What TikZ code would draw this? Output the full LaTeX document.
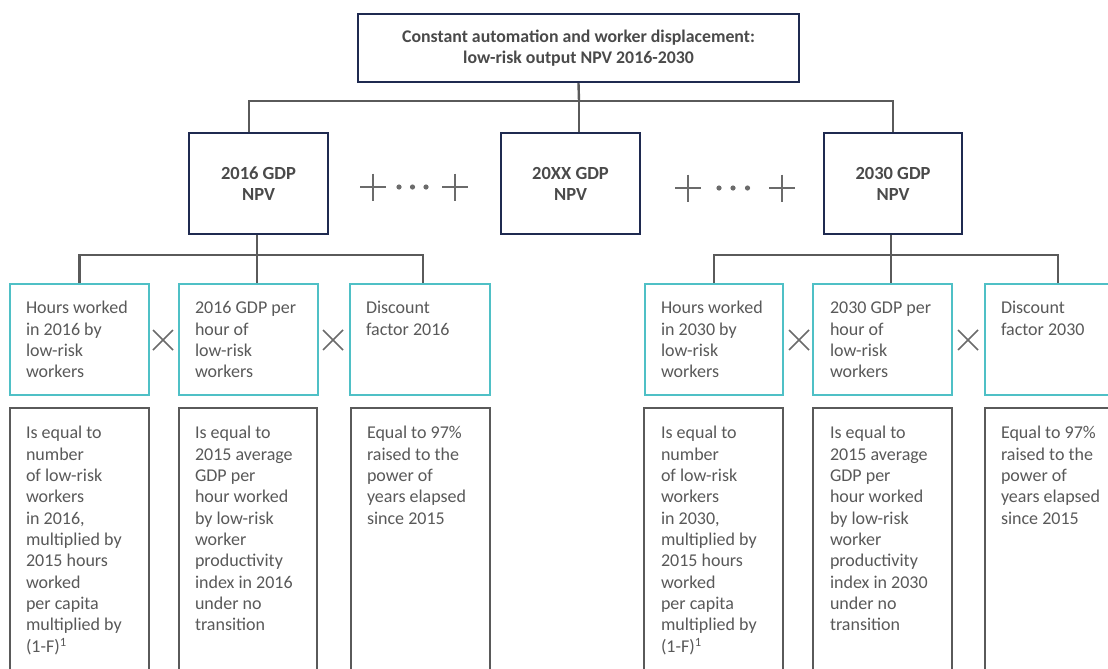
\documentclass[tikz,border=0pt]{standalone}
\usepackage{fontspec}
\setmainfont{Carlito}
\usetikzlibrary{calc}
\definecolor{navy}{HTML}{1F2A50}
\definecolor{teal}{HTML}{4FC0C6}
\definecolor{lgray}{HTML}{5A5A5A}
\definecolor{txtgray}{HTML}{595959}
\definecolor{ttlgray}{HTML}{4A4A4A}
\newcommand{\bodytxt}[2]{\parbox[t]{#1}{\raggedright\fontsize{18}{21.35}\selectfont #2}}
\begin{document}
\begin{tikzpicture}[x=1pt,y=-1pt,
  navybox/.style={draw=navy,line width=2.4pt,fill=white,inner sep=0pt,text=ttlgray,
     font=\bfseries\fontsize{18.5}{21}\selectfont,align=center},
  tealbox/.style={draw=teal,line width=2.4pt,fill=white,inner sep=0pt,minimum height=111pt},
  graybox/.style={draw=lgray,line width=2.4pt,fill=white,inner sep=0pt,minimum height=292pt},
  conn/.style={draw=lgray,line width=2.4pt},
  txt/.style={inner sep=0pt,anchor=base west,text=txtgray},
  sym/.style={draw=lgray!90,line width=1.6pt},
  dot/.style={fill=lgray!90,draw=none}]
\useasboundingbox (0,0) rectangle (1108,669);
\clip (0,0) rectangle (1108,669);
% top
\node[navybox,minimum width=441pt,minimum height=68pt,font=\bfseries\fontsize{17.8}{21}\selectfont] (T) at (578.5,48)
  {Constant automation and worker displacement:\\low-risk output NPV 2016-2030};
% NPV boxes
\node[navybox,minimum width=139pt,minimum height=101pt] (N16) at (258.5,183.5) {2016 GDP\\NPV};
\node[navybox,minimum width=139pt,minimum height=101pt] (NXX) at (570.5,183.5) {20XX GDP\\NPV};
\node[navybox,minimum width=138pt,minimum height=101pt] (N30) at (893,183.5) {2030 GDP\\NPV};
% teal boxes
\node[tealbox,minimum width=139pt] (a1) at (79.5,339.5) {};
\node[tealbox,minimum width=139pt] (a2) at (248.5,339.5) {};
\node[tealbox,minimum width=140pt] (a3) at (420,339.5) {};
\node[tealbox,minimum width=138pt] (b1) at (714,339.5) {};
\node[tealbox,minimum width=139pt] (b2) at (882.5,339.5) {};
\node[tealbox,minimum width=140pt] (b3) at (1055,339.5) {};
% gray boxes
\node[graybox,minimum width=139pt] (g1) at (79.5,554) {};
\node[graybox,minimum width=138pt] (g2) at (248,554) {};
\node[graybox,minimum width=139pt] (g3) at (420.5,554) {};
\node[graybox,minimum width=139pt] (h1) at (713.5,554) {};
\node[graybox,minimum width=139pt] (h2) at (882.5,554) {};
\node[graybox,minimum width=140pt] (h3) at (1055,554) {};
% connectors
\coordinate (bus) at (579,101);
\coordinate (k16) at (249,101);
\draw[conn] (T.south) -- (bus);
\draw[conn] (bus) -- (bus |- NXX.north);
\draw[conn] (k16 |- N16.north) -- (k16) -- (N30.north |- k16) -- (N30.north);
\coordinate (j16) at (257,255);
\coordinate (j30) at (891,255);
\draw[conn] (j16 |- N16.south) -- (j16) -- (j16 |- a2.north);
\draw[conn] (a1.north) |- (j16);
\draw[conn] (j16) -| ($(a3.north)+(3,0)$);
\draw[conn] (j30 |- N30.south) -- (j30) -- (j30 |- b2.north);
\draw[conn] (b1.north) |- (j30);
\draw[conn] (j30) -| ($(b3.north)+(3,0)$);
% teal texts
\node[txt] (ta1) at ($(a1.north west)+(17,31)$) {\bodytxt{125pt}{Hours worked\\in 2016 by\\low-risk\\workers}};
\node[txt] (ta2) at ($(a2.north west)+(17,31)$) {\bodytxt{125pt}{2016 GDP per\\hour of\\low-risk\\workers}};
\node[txt] (ta3) at ($(a3.north west)+(17,31)$) {\bodytxt{125pt}{Discount\\factor 2016}};
\node[txt] (tb1) at ($(b1.north west)+(17,31)$) {\bodytxt{125pt}{Hours worked\\in 2030 by\\low-risk\\workers}};
\node[txt] (tb2) at ($(b2.north west)+(18,31)$) {\bodytxt{125pt}{2030 GDP per\\hour of\\low-risk\\workers}};
\node[txt] (tb3) at ($(b3.north west)+(17,31)$) {\bodytxt{125pt}{Discount\\factor 2030}};
% gray texts
\node[txt] (tg1) at ($(g1.north west)+(17,32)$) {\bodytxt{125pt}{Is equal to\\number\\of low-risk\\workers\\in 2016,\\multiplied by\\2015 hours\\worked\\per capita\\multiplied by\\(1-F)\textsuperscript{1}}};
\node[txt] (tg2) at ($(g2.north west)+(17,32)$) {\bodytxt{125pt}{Is equal to\\2015 average\\GDP per\\hour worked\\by low-risk\\worker\\productivity\\index in 2016\\under no\\transition}};
\node[txt] (tg3) at ($(g3.north west)+(17,32)$) {\bodytxt{125pt}{Equal to 97\%\\raised to the\\power of\\years elapsed\\since 2015}};
\node[txt] (th1) at ($(h1.north west)+(18,32)$) {\bodytxt{125pt}{Is equal to\\number\\of low-risk\\workers\\in 2030,\\multiplied by\\2015 hours\\worked\\per capita\\multiplied by\\(1-F)\textsuperscript{1}}};
\node[txt] (th2) at ($(h2.north west)+(18,32)$) {\bodytxt{125pt}{Is equal to\\2015 average\\GDP per\\hour worked\\by low-risk\\worker\\productivity\\index in 2030\\under no\\transition}};
\node[txt] (th3) at ($(h3.north west)+(17,32)$) {\bodytxt{125pt}{Equal to 97\%\\raised to the\\power of\\years elapsed\\since 2015}};
% multiplication signs
\foreach \n/\cx in {x1/163,x2/333,x3/799,x4/968}{
  \coordinate (\n) at (\cx,340);
  \draw[sym] ($(\n)+(-10,-10)$) -- ($(\n)+(10,10)$);
  \draw[sym] ($(\n)+(-10,10)$) -- ($(\n)+(10,-10)$);
}
% plus signs and dots
\foreach \n/\cx/\cy in {p1/373/187,p2/455/187,p3/688/188,p4/782/188}{
  \coordinate (\n) at (\cx,\cy);
  \draw[sym,line width=1.8pt] ($(\n)+(-13,0)$) -- ($(\n)+(13,0)$);
  \draw[sym,line width=1.8pt] ($(\n)+(0,-13.5)$) -- ($(\n)+(0,13.5)$);
}
\foreach \cx/\cy in {399/187,412.5/187,426/187,719/188,733/188,747.5/188}{
  \fill[dot] (\cx,\cy) circle (2.6pt);
}
\end{tikzpicture}
\end{document}
